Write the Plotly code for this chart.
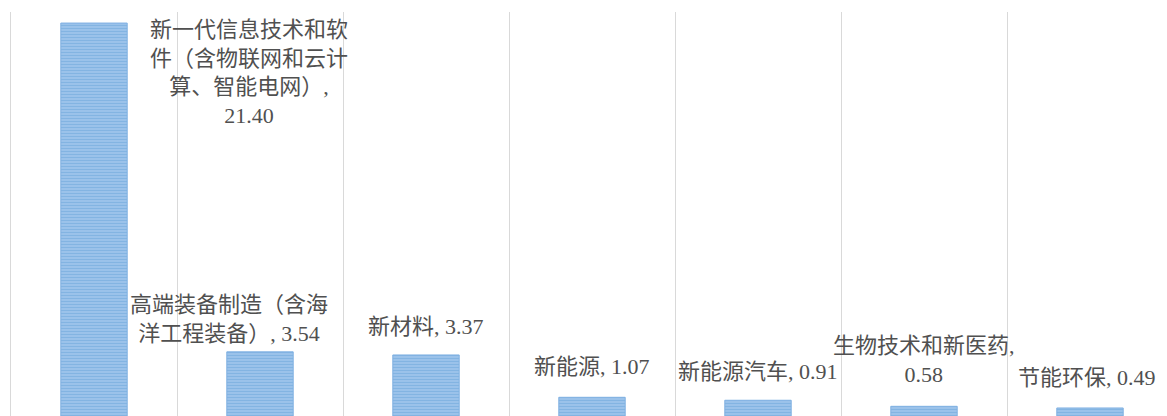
import plotly.graph_objects as go

categories = ["新一代信息技术和软件（含物联网和云计算、智能电网）", "高端装备制造（含海洋工程装备）",
              "新材料", "新能源", "新能源汽车", "生物技术和新医药", "节能环保"]
values = [21.40, 3.54, 3.37, 1.07, 0.91, 0.58, 0.49]
label_names = ["新一代信息技术和软<br>件（含物联网和云计<br>算、智能电网）,<br>",
               "高端装备制造（含海<br>洋工程装备）, ",
               "新材料, ", "新能源, ", "新能源汽车, ", "生物技术和新医药,<br>", "节能环保, "]

# label placement (pixels)
label_xshift = [155, -31, 0, 0, 0, 0, -3]
label_yshift = [8, 4, 14, 16, 14, 17, 16]
label_yanchor = ["top", "bottom", "bottom", "bottom", "bottom", "bottom", "bottom"]

fig = go.Figure()
fig.add_trace(go.Bar(
    x=categories, y=values, width=0.4,
    marker=dict(color="#8DB9E8",
                line=dict(color="#7FB0E2", width=1),
                pattern=dict(shape="-", fgcolor="#5B9BD5", bgcolor="#AACCEF",
                             size=3, solidity=0.6)),
    hoverinfo="skip",
))

for i, (c, v) in enumerate(zip(categories, values)):
    fig.add_annotation(
        x=c, y=v, xref="x", yref="y",
        text=label_names[i] + f"{v:.2f}",
        showarrow=False, align="center",
        xanchor="center", yanchor=label_yanchor[i],
        xshift=label_xshift[i], yshift=label_yshift[i],
        font=dict(family="Liberation Serif, Noto Sans CJK SC", size=22, color="#505050"),
    )

fig.update_layout(
    width=1167, height=416,
    margin=dict(l=3, r=2, t=4, b=7),
    paper_bgcolor="white", plot_bgcolor="white",
    showlegend=False,
    xaxis=dict(type="category", range=[-0.5, 6.5], tickson="boundaries",
               showgrid=True, gridcolor="#D9D9D9", gridwidth=1,
               showticklabels=False, ticks="", showline=False, zeroline=False),
    yaxis=dict(range=[0, 22.0], showgrid=False, showticklabels=False,
               zeroline=False, showline=True, linecolor="#D9D9D9", linewidth=1,
               ticks=""),
)

fig.write_html("out.html")
